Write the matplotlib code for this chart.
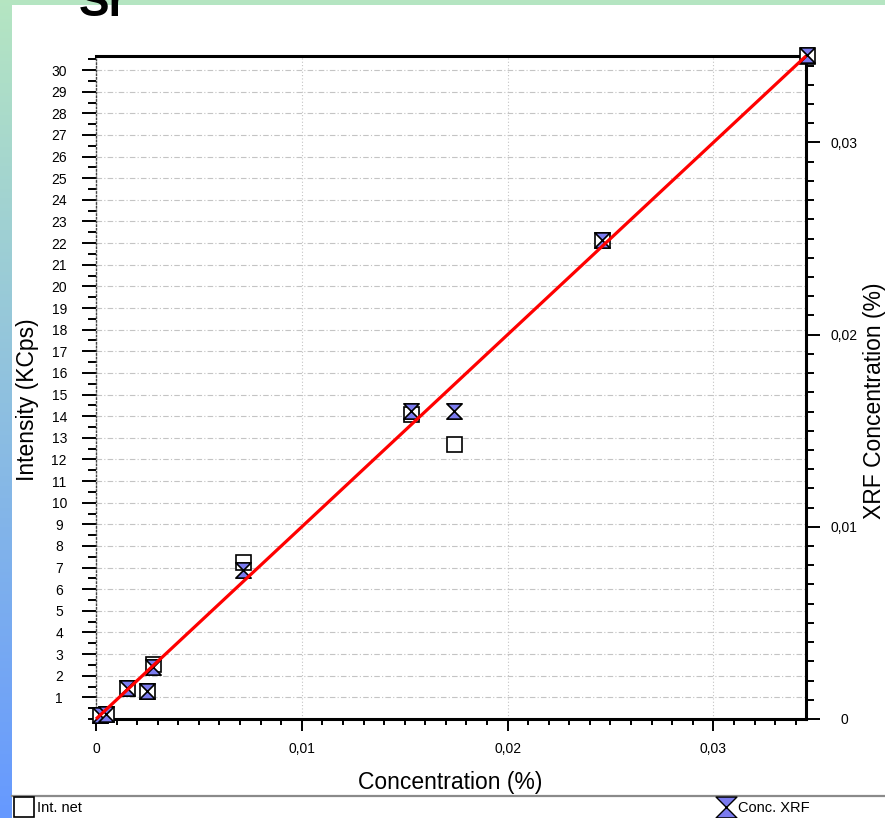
import numpy as np
import matplotlib
matplotlib.use("Agg")
import matplotlib.pyplot as plt
from matplotlib.path import Path
from matplotlib.lines import Line2D
from matplotlib.patches import Rectangle
from matplotlib.ticker import MultipleLocator, FixedLocator, FixedFormatter

plt.rcParams['font.family'] = ['Liberation Sans', 'DejaVu Sans']

# ---- calibration data (Sr) ----
conc_chem = [0.0002, 0.0005, 0.0015, 0.0025, 0.00277, 0.00715, 0.01533, 0.01742, 0.02457, 0.03455]
int_net = [0.18, 0.23, 1.43, 1.29, 2.54, 7.26, 14.10, 12.71, 22.15, 30.65]
conc_xrf = [0.0002, 0.00026, 0.0016, 0.00146, 0.0027, 0.00776, 0.01604, 0.01604, 0.02495, 0.03453]

# calibration line (XRF concentration vs chemical concentration)
line_x = [0.0, 0.0345]
line_y = [0.0, 0.0345]

x_ticks = [0.0, 0.01, 0.02, 0.03]
x_tick_labels = ["0", "0,01", "0,02", "0,03"]
y_ticks = list(range(1, 31))
y_tick_labels = [str(v) for v in y_ticks]
y2_ticks = [0.0, 0.01, 0.02, 0.03]
y2_tick_labels = ["0", "0,01", "0,02", "0,03"]

W, H = 885, 818
fig = plt.figure(figsize=(W / 100, H / 100), dpi=100)
fig.patch.set_facecolor("white")

# gradient frame behind the white panel
bg = fig.add_axes([0, 0, 1, 1], zorder=-10)
t = np.linspace(0, 1, 256)[:, None, None]
c_top = np.array([0.71, 0.90, 0.76])
c_bot = np.array([0.40, 0.60, 1.00])
grad = c_top + (c_bot - c_top) * t
bg.imshow(grad, aspect="auto", extent=[0, 1, 0, 1], origin="upper")
bg.axis("off")
fig.add_artist(Rectangle((12 / W, 0), 1 - 12 / W, 1 - 5 / H, transform=fig.transFigure,
                         facecolor="white", edgecolor="none", zorder=-5))

# hourglass marker
hourglass = Path([(-1, 1), (1, 1), (-1, -1), (1, -1), (-1, 1)],
                 [Path.MOVETO, Path.LINETO, Path.LINETO, Path.LINETO, Path.CLOSEPOLY])

ax = fig.add_axes([96 / W, 1 - 719 / H, 710 / W, 663 / H])
ax.set_xlim(0, 0.0345)
ax.set_ylim(0, 30.65)
ax2 = ax.twinx()
ax2.set_ylim(0, 0.0345)

# spines
for s in ("top", "bottom"):
    ax.spines[s].set_linewidth(2.2)
ax.spines["right"].set_visible(False)
ax.spines["left"].set_linestyle(":")
ax.spines["left"].set_linewidth(1.0)
ax.spines["left"].set_color("#444444")
for s in ("left", "top", "bottom"):
    ax2.spines[s].set_visible(False)
ax2.spines["right"].set_linewidth(2.2)

# ticks: left (intensity)
ax.yaxis.set_major_locator(FixedLocator(y_ticks))
ax.yaxis.set_major_formatter(FixedFormatter(y_tick_labels))
ax.yaxis.set_minor_locator(MultipleLocator(0.5))
ax.tick_params(axis="y", which="major", direction="out", length=10, width=1.4,
               pad=16.5, labelsize=10)
ax.tick_params(axis="y", which="minor", direction="out", length=5.5, width=1.4)
for lbl in ax.get_yticklabels():
    lbl.set_ha("center")

# ticks: bottom (concentration)
ax.xaxis.set_major_locator(FixedLocator(x_ticks))
ax.xaxis.set_major_formatter(FixedFormatter(x_tick_labels))
ax.xaxis.set_minor_locator(MultipleLocator(0.001))
ax.tick_params(axis="x", which="major", direction="out", length=8.5, width=1.4,
               pad=8, labelsize=10)
ax.tick_params(axis="x", which="minor", direction="out", length=4.5, width=1.4)

# ticks: right (XRF concentration)
ax2.yaxis.set_major_locator(FixedLocator(y2_ticks))
ax2.yaxis.set_major_formatter(FixedFormatter(y2_tick_labels))
ax2.yaxis.set_minor_locator(MultipleLocator(0.001))
ax2.tick_params(axis="y", which="major", direction="out", length=10, width=1.4,
                pad=17.3, labelsize=10)
ax2.tick_params(axis="y", which="minor", direction="out", length=5.5, width=1.4)
for lbl in ax2.get_yticklabels():
    lbl.set_ha("center")

# grid
ax.yaxis.grid(True, which="major", color="#c4c4c4", linestyle=(0, (5, 2, 1, 2)), linewidth=0.8)
ax.xaxis.grid(True, which="major", color="#c4c4c4", linestyle=(0, (1, 2)), linewidth=0.8)
ax.set_axisbelow(True)

# data
ax.plot(conc_chem, int_net, linestyle="none", marker="s", ms=10.8, mfc="white",
        mec="black", mew=1.2, clip_on=False, zorder=3)
ax2.plot(conc_chem, conc_xrf, linestyle="none", marker=hourglass, ms=11, mfc="#7b7bef",
         mec="black", mew=1.2, clip_on=False, zorder=4)
ax2.plot(line_x, line_y, color="#ff0000", lw=2.3, zorder=5, clip_on=False,
         solid_capstyle="butt")

# axis titles
fig.text(28 / W, 1 - 400 / H, "Intensity (KCps)", rotation=90, ha="center", va="center",
         fontsize=16.5)
fig.text(875 / W, 1 - 401 / H, "XRF Concentration (%)", rotation=90, ha="center",
         va="center", fontsize=16.5)
fig.text(450 / W, 1 - 783 / H, "Concentration (%)", ha="center", va="center", fontsize=16.5)

# chart title
fig.text(79 / W, 1 - 16.5 / H, "Sr", fontsize=33, fontweight="bold", va="baseline")

# legend strip
fig.add_artist(Line2D([12 / W, 1], [1 - 796 / H, 1 - 796 / H], transform=fig.transFigure,
                      color="#8a8a8a", lw=1.6))
fig.add_artist(Line2D([23.5 / W], [1 - 807 / H], transform=fig.transFigure, marker="s",
                      ms=14.4, mfc="white", mec="black", mew=1.2, linestyle="none"))
fig.text(37 / W, 1 - 808 / H, "Int. net", ha="left", va="center", fontsize=10.5)
fig.add_artist(Line2D([726 / W], [1 - 807 / H], transform=fig.transFigure, marker=hourglass,
                      ms=15, mfc="#7b7bef", mec="black", mew=1.0, linestyle="none"))
fig.text(738 / W, 1 - 808 / H, "Conc. XRF", ha="left", va="center", fontsize=10.5)

fig.savefig("out.png", dpi=100)
